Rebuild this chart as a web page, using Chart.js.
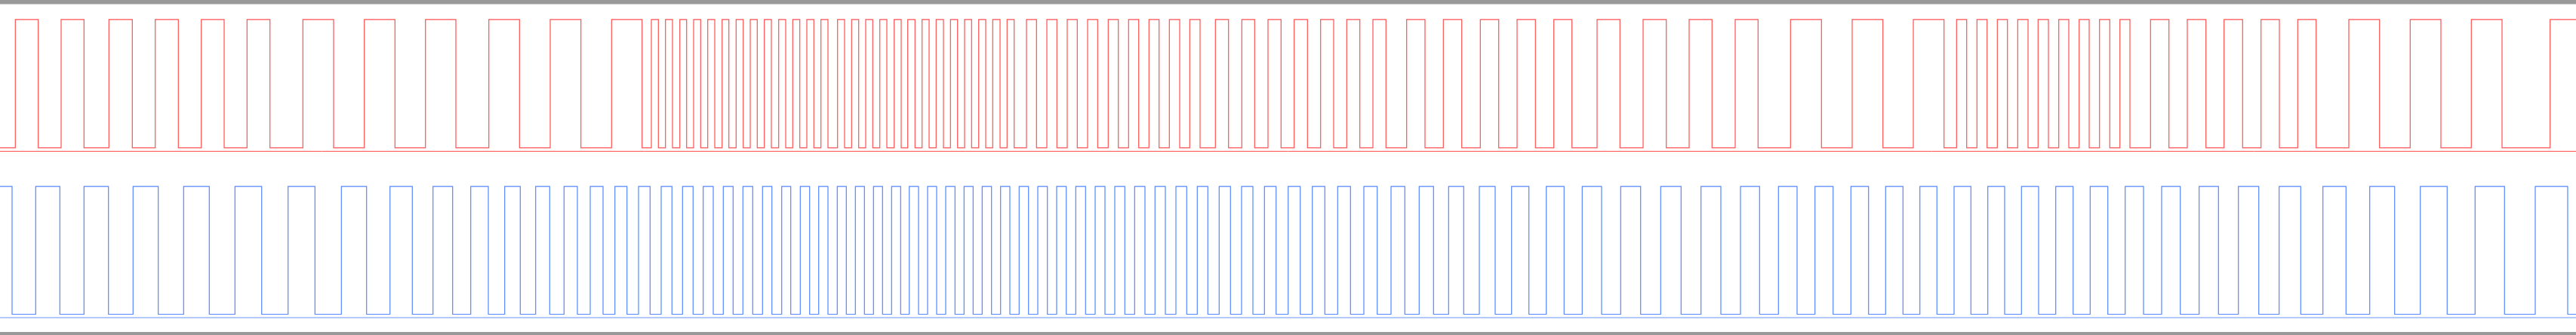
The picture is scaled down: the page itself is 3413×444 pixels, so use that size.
<!DOCTYPE html>
<html>
<head>
<meta charset="utf-8">
<style>
  html, body { margin: 0; padding: 0; background: #ffffff; }
  #wrap { width: 3413px; height: 444px; }
</style>
<script src="https://cdn.jsdelivr.net/npm/chart.js@4.4.1/dist/chart.umd.min.js"></script>
</head>
<body>
<div id="wrap"><canvas id="c" width="3413" height="444"></canvas></div>
<script>
// ---- data (time of each transition, in sample units) ----
const timeStart = 0;
const timeEnd = 3413;

const redStartLevel = 0;
const redEdges = [
  20.3, 50.7, 81, 111.3, 144.3, 175.3, 205.7, 236.3, 266.7, 297, 327.3, 357.7,
  401.3, 442, 482.7, 523.3, 563.7, 604, 647.7, 688.3, 729, 769.7,
  810.3, 850.7, 863, 872.3, 881.7, 891, 900.7, 909.7, 919, 928.3, 937.7, 947,
  956.7, 965.7, 975.3, 984.7, 994, 1003.3, 1012.7, 1022, 1031.7, 1041, 1050.3, 1059.7,
  1069, 1078.3, 1087.7, 1097, 1109.7, 1119, 1128.3, 1137.7, 1147, 1156.3, 1165.7, 1175,
  1184.7, 1194, 1202.7, 1212.3, 1221.7, 1231, 1240.3, 1250, 1259.3, 1268.7, 1278, 1287.3,
  1296.7, 1306, 1315.3, 1325, 1334.3, 1343.7, 1360, 1373.3, 1387, 1400.3, 1414, 1427.3,
  1441, 1454.3, 1468.3, 1481.7, 1495.3, 1508.7, 1522.3, 1535.7, 1549.3, 1563, 1576.3, 1590,
  1610.3, 1627.7, 1645.3, 1662.3, 1680, 1697.3, 1714.7, 1732.3, 1749.7, 1767, 1784.3, 1801.7,
  1819, 1836.3, 1863.7, 1888, 1912.3, 1936.7, 1961.3, 1985.7,
  2010, 2034.3, 2058.7, 2082.7, 2116, 2146.3, 2177, 2207.7, 2238, 2268.3, 2299, 2329.3, 2372.3,
  2413.3, 2454, 2494.7, 2535, 2575.7, 2592.3, 2605.7, 2619.3, 2632.7, 2646.3, 2659.7, 2673.3,
  2687, 2700.3, 2714, 2727.7, 2741, 2754.7, 2768, 2781.7, 2795.3,
  2808.7, 2822, 2849.3, 2873.7, 2898, 2922.7, 2946.7, 2971.3, 2995.7, 3020,
  3044.3, 3068.7, 3112, 3152.7, 3193.3, 3234, 3274.3, 3315, 3378.7
];

const blueStartLevel = 1;
const blueEdges = [
  16, 47.3, 79.3, 111.3, 143.7, 176.3, 209.7, 243.3, 277.3, 311.3, 346.7, 381.7,
  417.3, 452.3, 485.7, 516.7, 546.3, 573.7, 599.7, 623.7, 647, 668.7, 689.3, 709.7, 728.3,
  747.3, 765, 782, 799,
  814.7, 830.7, 846, 861.3, 876, 890.3, 904.3, 918.3, 931.7, 945, 958.3, 971.3, 984.3, 997.3,
  1010.3, 1022.7, 1035.7, 1047.7, 1060.3, 1072.7, 1084.7, 1097, 1109.3, 1121.3, 1133.3, 1145.3,
  1157.3, 1169.3, 1181.3, 1193.3,
  1204.7, 1217, 1229, 1241, 1253, 1265.3, 1277.3, 1289.3, 1301.3, 1313.7, 1325.7, 1338, 1350.3,
  1362.7, 1375, 1387.7, 1400, 1412.7, 1425.3, 1438.3, 1451, 1464, 1477, 1490.3, 1503.3, 1517,
  1530.3, 1544, 1558, 1572.3, 1586.3,
  1600.3, 1615.3, 1630.3, 1645, 1660, 1675.3, 1690.7, 1706.7, 1722.7, 1738.7, 1755.3, 1772.3,
  1789.3, 1807, 1824.7, 1843, 1861.3, 1880.3, 1899.3, 1919.3, 1939.3, 1960, 1981,
  2002.7, 2025.7, 2048.7, 2072.3, 2096.3, 2122, 2147.3, 2173.7, 2200.3, 2227.3, 2253.7, 2280,
  2306, 2331.3, 2356.3, 2381,
  2404.7, 2428.7, 2452.3, 2475.7, 2498.3, 2521.3, 2543.7, 2566.3, 2589, 2611.3, 2633.7, 2656,
  2678.3, 2701, 2723.7, 2746.7, 2769.3, 2792.7,
  2815.7, 2840, 2864, 2888.7, 2913.7, 2939.3, 2965.7, 2992.7, 3019.7,
  3048.3, 3077.7, 3108.3, 3139.7, 3172.7, 3206.7, 3242.3, 3279.3, 3318.3, 3359, 3402
];

const baselineLevel = -0.026;

// ---- build stepped series from the edge lists ----
function buildSteps(startLevel, edges) {
  const pts = [{ x: timeStart, y: startLevel }];
  let level = startLevel;
  for (const t of edges) {
    level = 1 - level;
    pts.push({ x: t, y: level });
  }
  pts.push({ x: timeEnd, y: level });
  return pts;
}

const redColor = 'rgb(255,80,80)';
const blueColor = 'rgb(85,135,255)';

new Chart(document.getElementById('c'), {
  type: 'line',
  data: {
    datasets: [
      {
        label: 'A',
        data: buildSteps(redStartLevel, redEdges),
        stepped: true,
        borderColor: redColor,
        borderWidth: 1.2,
        pointRadius: 0,
        fill: false,
        yAxisID: 'yRed',
        xAxisID: 'x'
      },
      {
        label: 'B',
        data: buildSteps(blueStartLevel, blueEdges),
        stepped: true,
        borderColor: blueColor,
        borderWidth: 1.2,
        pointRadius: 0,
        fill: false,
        yAxisID: 'yBlue',
        xAxisID: 'x'
      }
    ]
  },
  options: {
    responsive: false,
    animation: false,
    events: [],
    layout: { padding: 0 },
    plugins: { legend: { display: false }, tooltip: { enabled: false } },
    scales: {
      x: {
        type: 'linear',
        position: 'bottom',
        min: timeStart,
        max: timeEnd,
        grid: { display: false, drawTicks: false },
        ticks: { display: false },
        border: { display: true, color: '#999999', width: 8 }
      },
      x2: {
        type: 'linear',
        position: 'top',
        min: 0,
        max: 1,
        grid: { display: false, drawTicks: false },
        ticks: { display: false },
        border: { display: true, color: '#999999', width: 10.5 }
      },
      yRed: {
        type: 'linear',
        position: 'left',
        min: -1.46,
        max: 1.1518,
        bounds: 'data',
        afterBuildTicks: (axis) => { axis.ticks = [{ value: baselineLevel }]; },
        grid: { display: true, drawTicks: false, color: redColor, lineWidth: 1 },
        ticks: { display: false },
        border: { display: false }
      },
      yBlue: {
        type: 'linear',
        position: 'left',
        min: -0.1624,
        max: 2.4601,
        bounds: 'data',
        afterBuildTicks: (axis) => { axis.ticks = [{ value: baselineLevel }]; },
        grid: { display: true, drawTicks: false, color: 'rgb(178,202,252)', lineWidth: 2 },
        ticks: { display: false },
        border: { display: false }
      }
    }
  }
});
</script>
</body>
</html>
